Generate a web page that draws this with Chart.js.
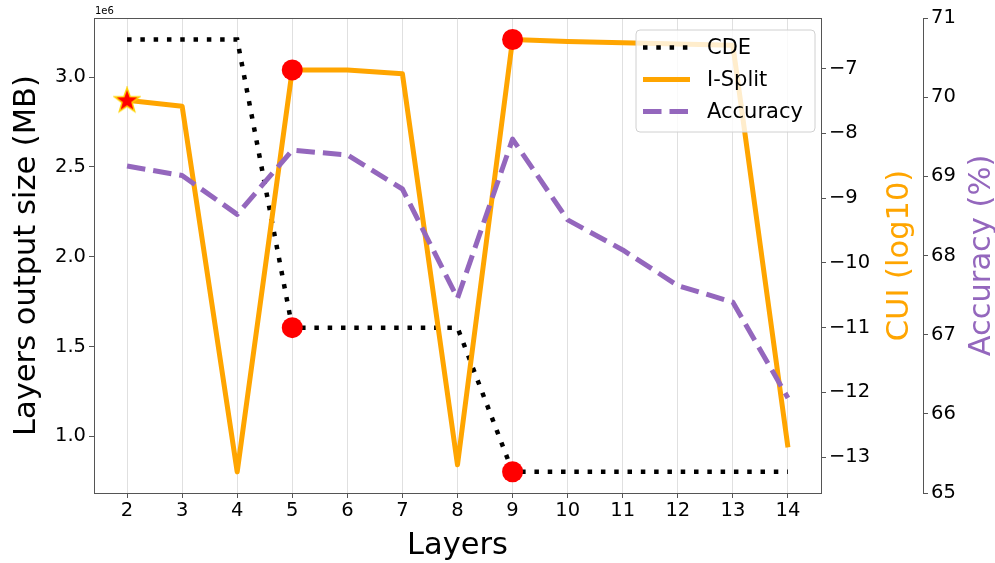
<!DOCTYPE html>
<html>
<head>
<meta charset="utf-8">
<script src="https://cdn.jsdelivr.net/npm/chart.js@4"></script>
<style>
    html, body { margin: 0; padding: 0; background: #fff; }
    #wrap { width: 995px; height: 563px; position: relative; }
</style>
</head>
<body>
<div id="wrap"><canvas id="CHART_Layers"></canvas></div>
<script>
// data
const layers = [2, 3, 4, 5, 6, 7, 8, 9, 10, 11, 12, 13, 14];
const cdeSize = [3.21e6, 3.21e6, 3.21e6, 1.605e6, 1.605e6, 1.605e6, 1.605e6, 0.8025e6, 0.8025e6, 0.8025e6, 0.8025e6, 0.8025e6, 0.8025e6];
const iSplitCui = [-7.49, -7.58, -13.23, -7.02, -7.02, -7.08, -13.12, -6.55, -6.58, -6.60, -6.62, -6.64, -12.85];
const accuracy = [69.13, 69.01, 68.52, 69.33, 69.27, 68.84, 67.46, 69.47, 68.45, 68.07, 67.62, 67.41, 66.20];
const splitLayers = [5, 9];   // red dots
const bestLayer = 2;          // red star

const sizeTicks = [1.0, 1.5, 2.0, 2.5, 3.0];
const cuiTicks = [-13, -12, -11, -10, -9, -8, -7];
const accTicks = [65, 66, 67, 68, 69, 70, 71];

const FONT = 'DejaVu Sans';
const SPINE = '#555';

function toPoints(values) {
    return layers.map((l, i) => ({ x: l, y: values[i] }));
}

function makeStar() {
    let c = document.createElement('canvas');
    c.width = 28; c.height = 28;
    let g = c.getContext('2d');
    g.beginPath();
    for (let i = 0; i < 10; i++) {
        let r = i % 2 === 0 ? 13 : 5.3;
        let a = -Math.PI / 2 + i * Math.PI / 5;
        g.lineTo(14 + r * Math.cos(a), 14.5 + r * Math.sin(a));
    }
    g.closePath();
    g.fillStyle = '#ff0000';
    g.fill();
    g.lineWidth = 1.5;
    g.strokeStyle = '#ffd200';
    g.stroke();
    return c;
}
const starImg = makeStar();

function isSplit(ctx) {
    return splitLayers.includes(layers[ctx.dataIndex]);
}

const framePlugin = {
    id: 'frame',
    afterDatasetsDraw(chart) {
        let ctx = chart.ctx;
        let a = chart.chartArea;
        ctx.save();
        // top spine
        ctx.strokeStyle = SPINE;
        ctx.lineWidth = 1;
        ctx.beginPath();
        ctx.moveTo(a.left, a.top + 0.5);
        ctx.lineTo(a.right, a.top + 0.5);
        ctx.stroke();

        // offset text
        ctx.fillStyle = '#000';
        ctx.font = `10px "${FONT}"`;
        ctx.textAlign = 'left';
        ctx.textBaseline = 'alphabetic';
        ctx.fillText('1e6', a.left + 1, a.top - 4);

        // right axis titles (read bottom to top like matplotlib)
        let cy = (a.top + a.bottom) / 2;
        let titles = [
            { scale: chart.scales.cui, text: 'CUI (log10)', color: '#FFA500', off: 15 },
            { scale: chart.scales.acc, text: 'Accuracy (%)', color: '#9467bd', off: 5 }
        ];
        ctx.font = `30.5px "${FONT}"`;
        ctx.textAlign = 'center';
        for (let t of titles) {
            ctx.save();
            ctx.translate(t.scale.right - t.off, cy);
            ctx.rotate(-Math.PI / 2);
            ctx.fillStyle = t.color;
            ctx.fillText(t.text, 0, 0);
            ctx.restore();
        }

        // legend box, upper right
        let bx = 636, by = 30, bw = 179, bh = 102;
        ctx.beginPath();
        ctx.roundRect(bx, by, bw, bh, 4);
        ctx.fillStyle = 'rgba(255,255,255,0.8)';
        ctx.fill();
        ctx.strokeStyle = '#d0d0d0';
        ctx.lineWidth = 1;
        ctx.stroke();

        ctx.font = `21px "${FONT}"`;
        ctx.textAlign = 'left';
        ctx.textBaseline = 'middle';
        let rows = [47.5, 79.5, 111.5];
        chart.data.datasets.forEach((ds, i) => {
            let y = rows[i];
            ctx.save();
            ctx.strokeStyle = ds.borderColor;
            ctx.lineWidth = ds.borderWidth;
            ctx.setLineDash(ds.borderDash || []);
            ctx.beginPath();
            ctx.moveTo(643, y);
            ctx.lineTo(690, y);
            ctx.stroke();
            ctx.restore();
            ctx.fillStyle = '#000';
            ctx.fillText(ds.label, 707, y + 1);
        });
        ctx.restore();
    }
};

function yAxisBase(ticksList, scaleFactor, pos) {
    return {
        type: 'linear',
        position: pos,
        afterBuildTicks: (scale) => {
            scale.ticks = ticksList.map(v => ({ value: v * scaleFactor }));
        },
        grid: {
            drawOnChartArea: false,
            drawTicks: true,
            tickLength: 5,
            tickColor: SPINE,
        },
        border: { display: true, color: SPINE, width: 1 },
        ticks: {
            color: '#000',
            padding: 3,
            font: { family: FONT, size: 19.5 },
        }
    };
}

let chartHtml = document.getElementById('CHART_Layers').getContext('2d');

let sizeAxis = yAxisBase(sizeTicks, 1e6, 'left');
sizeAxis.min = 0.684e6;
sizeAxis.max = 3.33e6;
sizeAxis.ticks.callback = (v) => (v / 1e6).toFixed(1);
sizeAxis.title = {
    display: true,
    text: 'Layers output size (MB)',
    color: '#000',
    font: { family: FONT, size: 30.5, lineHeight: 1 },
    padding: { top: 12, bottom: 0 }
};
sizeAxis.afterFit = (scale) => { scale.width = 94; };

let cuiAxis = yAxisBase(cuiTicks, 1, 'right');
cuiAxis.min = -13.556;
cuiAxis.max = -6.218;
cuiAxis.ticks.callback = (v) => v < 0 ? '\u2212' + Math.abs(v) : String(v);
cuiAxis.afterFit = (scale) => { scale.width = 102; };

let accAxis = yAxisBase(accTicks, 1, 'right');
accAxis.min = 65;
accAxis.max = 71;
accAxis.afterFit = (scale) => { scale.width = 72; };

let chart = new Chart(chartHtml, {
    type: 'line',
    data: {
        datasets: [{
            label: 'CDE',
            data: toPoints(cdeSize),
            yAxisID: 'y',
            borderColor: '#000000',
            borderWidth: 4.5,
            borderDash: [4.5, 8.8],
            borderCapStyle: 'butt',
            pointRadius: (ctx) => isSplit(ctx) ? 10.5 : 0,
            pointBackgroundColor: '#ff0000',
            pointBorderColor: '#ff0000',
            pointBorderWidth: 0,
            order: 3,
        }, {
            label: 'I-Split',
            data: toPoints(iSplitCui),
            yAxisID: 'cui',
            borderColor: '#FFA500',
            borderWidth: 5,
            borderJoinStyle: 'round',
            pointStyle: (ctx) => layers[ctx.dataIndex] === bestLayer ? starImg : 'circle',
            pointRadius: (ctx) => (isSplit(ctx) || layers[ctx.dataIndex] === bestLayer) ? 10.5 : 0,
            pointBackgroundColor: '#ff0000',
            pointBorderColor: '#ff0000',
            pointBorderWidth: 0,
            order: 2,
        }, {
            label: 'Accuracy',
            data: toPoints(accuracy),
            yAxisID: 'acc',
            borderColor: '#9467bd',
            borderWidth: 5,
            borderDash: [18.5, 8],
            borderCapStyle: 'butt',
            borderJoinStyle: 'round',
            pointRadius: 0,
            order: 1,
        }]
    },
    options: {
        responsive: true,
        maintainAspectRatio: false,
        animation: false,
        events: [],
        layout: { padding: { top: 18, left: 0, right: 0, bottom: 0 } },
        plugins: {
            legend: { display: false },
            tooltip: { enabled: false }
        },
        scales: {
            x: {
                type: 'linear',
                min: 1.4,
                max: 14.6,
                afterBuildTicks: (scale) => {
                    scale.ticks = layers.map(v => ({ value: v }));
                },
                afterFit: (scale) => { scale.height = 70; },
                grid: {
                    color: '#e0e0e0',
                    lineWidth: 1,
                    drawTicks: true,
                    tickLength: 5,
                    tickColor: SPINE,
                },
                border: { display: true, color: SPINE, width: 1 },
                ticks: {
                    color: '#000',
                    padding: 1,
                    font: { family: FONT, size: 19.5 },
                },
                title: {
                    display: true,
                    text: 'Layers',
                    color: '#000',
                    font: { family: FONT, size: 30.5, lineHeight: 1 },
                    padding: { top: 0, bottom: 2 }
                }
            },
            y: sizeAxis,
            cui: cuiAxis,
            acc: accAxis
        }
    },
    plugins: [framePlugin]
});
</script>
</body>
</html>
